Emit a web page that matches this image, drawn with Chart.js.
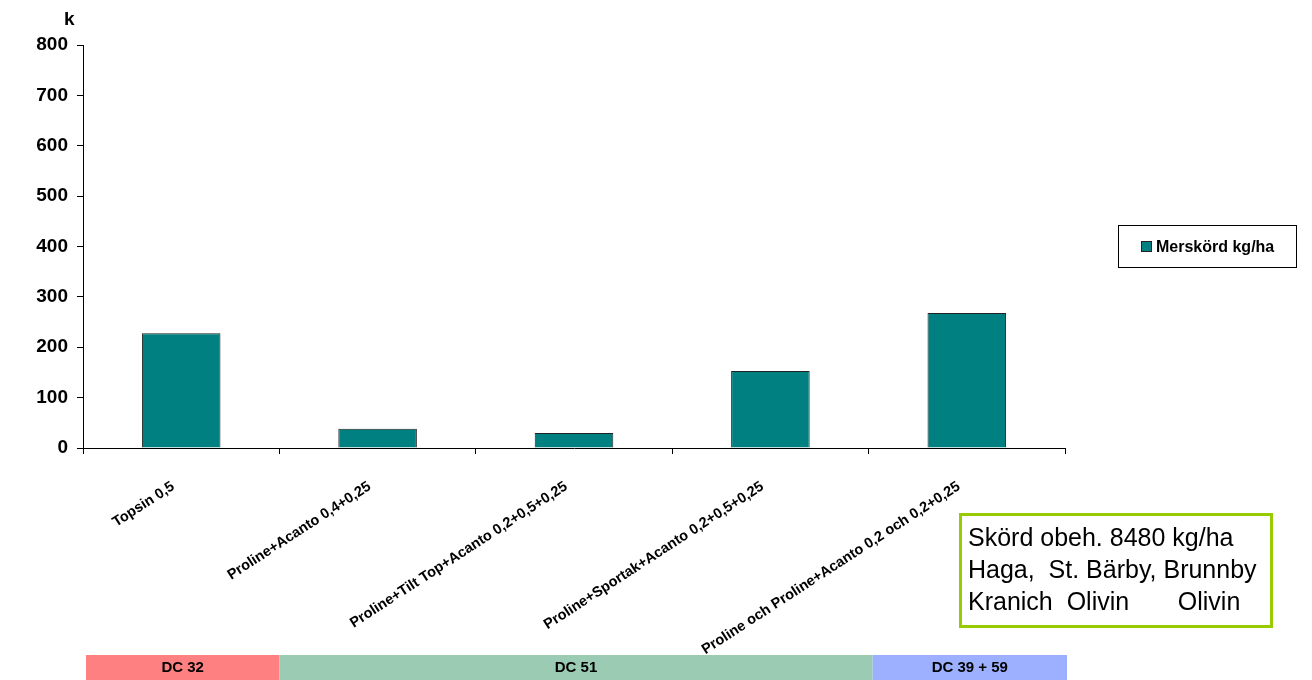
<!DOCTYPE html>
<html>
<head>
<meta charset="utf-8">
<script src="https://cdn.jsdelivr.net/npm/chart.js@4"></script>
<style>
  body { margin: 0; background: #fff; font-family: "Liberation Sans", Arial, sans-serif; }
  #wrap { position: relative; width: 1312px; height: 680px; }
  #unit { position: absolute; left: 64px; top: 8px; font-weight: bold; font-size: 19px; }
  #legend { position: absolute; left: 1118px; top: 225px; width: 179px; height: 43px; border: 1px solid #000;
            font-weight: bold; font-size: 16px; display: flex; align-items: center; box-sizing: border-box; padding-left: 22px; }
  #legend span.box { display: inline-block; width: 9px; height: 9px; background: #008080; border: 1px solid #222; margin-right: 4px; }
  #note { position: absolute; left: 959px; top: 513px; width: 314px; height: 115px; border: 3px solid #99cc00;
          box-sizing: border-box; font-size: 25px; line-height: 32px; padding: 5px 0 0 6px; white-space: pre; }
</style>
</head>
<body>
<div id="wrap">
  <canvas id="chart" width="1312" height="680"></canvas>
  <div id="unit">k</div>
  <div id="legend"><span class="box"></span>Merskörd kg/ha</div>
  <div id="note"></div>
</div>
<script>
// behandlingar
const categories = [
  "Topsin 0,5",
  "Proline+Acanto 0,4+0,25",
  "Proline+Tilt Top+Acanto 0,2+0,5+0,25",
  "Proline+Sportak+Acanto 0,2+0,5+0,25",
  "Proline och Proline+Acanto 0,2 och 0,2+0,25"
];
const merskord = [228, 38, 30, 153, 268];
const seriesName = "Merskörd kg/ha";

const yMin = 0;
const yMax = 800;
const yStep = 100;

// DC stadier under x-axeln (index i categories)
const bandLabels = ["DC 32", "DC 51", "DC 39 + 59"];
const bandFrom = [0, 1, 4];
const bandTo = [0, 3, 4];
const bandColors = ["#ff8080", "#9bcbb3", "#9cb0ff"];

const noteLines = [
  "Skörd obeh. 8480 kg/ha",
  "Haga,  St. Bärby, Brunnby",
  "Kranich  Olivin       Olivin"
];
document.getElementById("note").textContent = noteLines.join("\n");

const bandPlugin = {
  id: "bands",
  afterDraw(chart) {
    const ctx = chart.ctx;
    const x = chart.scales.x;
    const half = (x.getPixelForValue(1) - x.getPixelForValue(0)) / 2;
    ctx.save();
    for (let i = 0; i < bandLabels.length; i++) {
      let left = x.getPixelForValue(bandFrom[i]) - half;
      let right = x.getPixelForValue(bandTo[i]) + half;
      if (i === 0) left += 3;
      if (i === 1) right += 4;
      if (i === 2) { left += 4; right += 2; }
      ctx.fillStyle = bandColors[i];
      ctx.fillRect(left, 655, right - left, 25);
      ctx.fillStyle = "#000";
      ctx.font = "bold 15px 'Liberation Sans', Arial";
      ctx.textAlign = "center";
      ctx.textBaseline = "middle";
      ctx.fillText(bandLabels[i], (left + right) / 2, 668);
    }
    ctx.restore();
  }
};

new Chart(document.getElementById("chart"), {
  type: "bar",
  data: {
    labels: categories,
    datasets: [{
      label: seriesName,
      data: merskord,
      backgroundColor: "#008080",
      borderColor: "#222",
      borderWidth: 1,
      barPercentage: 0.4,
      categoryPercentage: 1
    }]
  },
  options: {
    responsive: false,
    animation: false,
    layout: { padding: { top: 45, right: 247, left: 0, bottom: 0 } },
    plugins: {
      legend: { display: false },
      tooltip: { enabled: false }
    },
    scales: {
      x: {
        offset: true,
        grid: { offset: true, drawOnChartArea: false, drawTicks: true, tickLength: 6, color: "#000" },
        border: { color: "#000", width: 1 },
        ticks: {
          minRotation: 33,
          maxRotation: 33,
          autoSkip: false,
          color: "#000",
          padding: 24,
          labelOffset: -8,
          font: { family: "'Liberation Sans', Arial", size: 14.5, weight: "bold" }
        },
        afterFit(scale) { scale.height = 232; }
      },
      y: {
        min: yMin,
        max: yMax,
        ticks: {
          stepSize: yStep,
          color: "#000",
          padding: 9,
          font: { family: "'Liberation Sans', Arial", size: 19, weight: "bold" }
        },
        grid: { drawOnChartArea: false, drawTicks: true, tickLength: 6, color: "#000" },
        border: { color: "#000", width: 1 },
        afterFit(scale) { scale.width = 83; }
      }
    }
  },
  plugins: [bandPlugin]
});
</script>
</body>
</html>
